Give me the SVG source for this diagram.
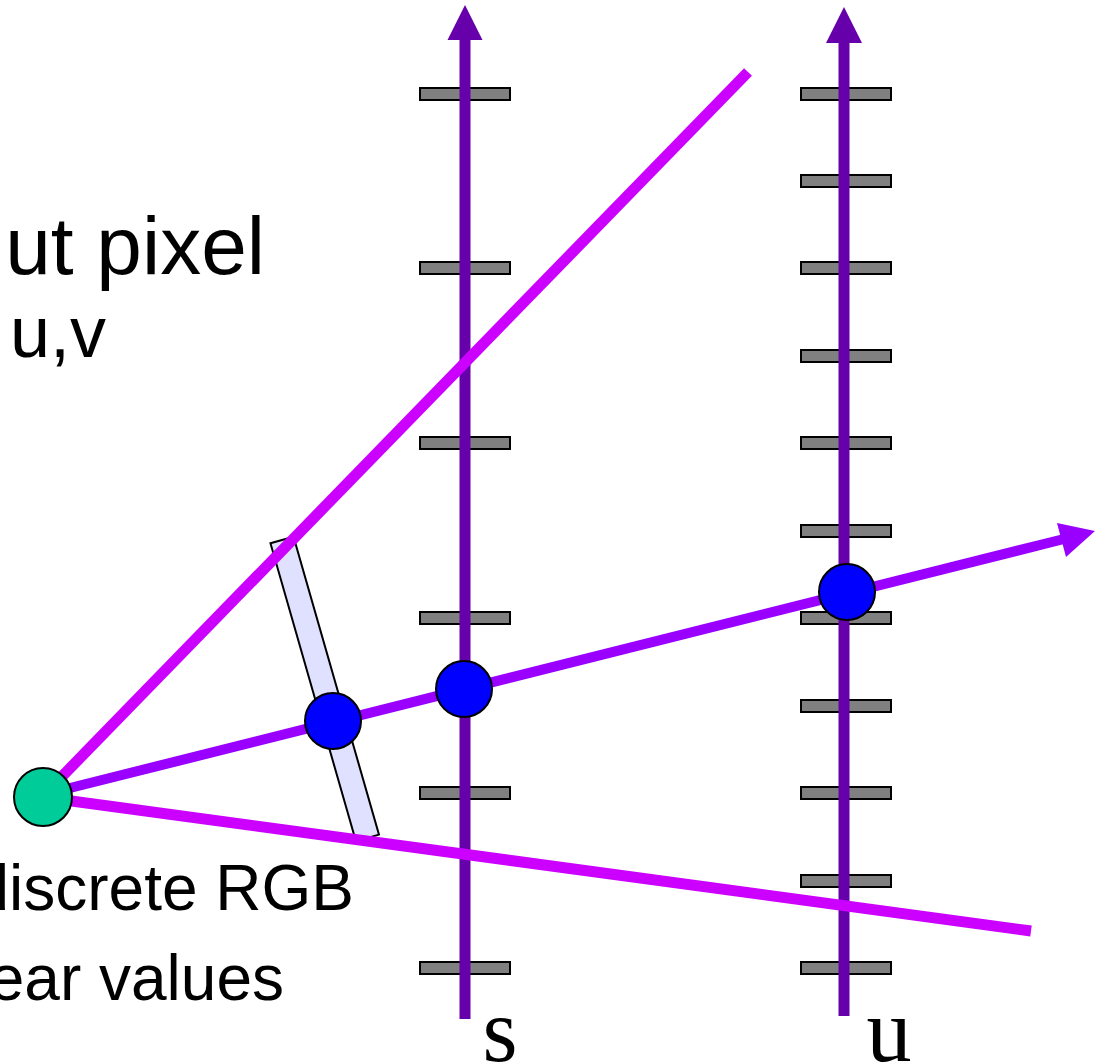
<svg xmlns="http://www.w3.org/2000/svg" width="1105" height="1064" viewBox="0 0 1105 1064">
<style>
.tick{fill:#808080;stroke:#000;stroke-width:2}
.axis{stroke:#6600aa;stroke-width:11;fill:none}
.ahead{fill:#6600aa}
.ray{stroke:#cc00ff;stroke-width:11;fill:none}
.mid{stroke:#9900ff;stroke-width:10;fill:none}
.dot{fill:#0000ff;stroke:#000;stroke-width:2}
.lbl{font-family:"Liberation Sans",Arial,sans-serif;fill:#000}
.ax{font-family:"Liberation Serif","Times New Roman",serif;fill:#000;font-size:90px}
</style>
<rect width="1105" height="1064" fill="#fff"/>
<g id="labels">
<text class="lbl" x="265" y="274" font-size="82" text-anchor="end">ut pixel</text>
<text class="lbl" x="106" y="357" font-size="72" text-anchor="end">u,v</text>
<text class="lbl" x="354" y="910" font-size="64" text-anchor="end">discrete RGB</text>
<text class="lbl" x="284" y="1000" font-size="64" text-anchor="end">ear values</text>
</g>
<g id="s-axis">
<rect class="tick" x="420" y="88" width="90" height="12"/>
<rect class="tick" x="420" y="262" width="90" height="12"/>
<rect class="tick" x="420" y="437" width="90" height="12"/>
<rect class="tick" x="420" y="612" width="90" height="12"/>
<rect class="tick" x="420" y="787" width="90" height="12"/>
<rect class="tick" x="420" y="962" width="90" height="12"/>
<line class="axis" x1="465" y1="1019" x2="465" y2="38"/>
<polygon class="ahead" points="465,5 447.5,40 482.5,40"/>
<text class="ax" x="500" y="1061" text-anchor="middle">s</text>
</g>
<g id="u-axis">
<rect class="tick" x="801" y="88" width="90" height="12"/>
<rect class="tick" x="801" y="175" width="90" height="12"/>
<rect class="tick" x="801" y="262" width="90" height="12"/>
<rect class="tick" x="801" y="350" width="90" height="12"/>
<rect class="tick" x="801" y="437" width="90" height="12"/>
<rect class="tick" x="801" y="525" width="90" height="12"/>
<rect class="tick" x="801" y="612" width="90" height="12"/>
<rect class="tick" x="801" y="700" width="90" height="12"/>
<rect class="tick" x="801" y="787" width="90" height="12"/>
<rect class="tick" x="801" y="875" width="90" height="12"/>
<rect class="tick" x="801" y="962" width="90" height="12"/>
<line class="axis" x1="844" y1="1016" x2="844" y2="41"/>
<polygon class="ahead" points="844,7 826,43 862,43"/>
<text class="ax" x="889" y="1061" text-anchor="middle">u</text>
</g>
<g id="band">
<rect x="-12" y="0" width="24" height="310" fill="#e0e0ff" stroke="#000" stroke-width="2" transform="translate(282,540) rotate(-16)"/>
</g>
<g id="connectors">
<line class="ray" x1="42" y1="797" x2="748" y2="72"/>
<line class="ray" x1="42" y1="797" x2="1031" y2="931"/>
<line class="mid" x1="42" y1="795" x2="1062" y2="539.5"/>
<polygon fill="#9900ff" points="1095,531 1057,523 1066,557"/>
</g>
<g id="eye"><circle cx="43" cy="797" r="29" fill="#00cc99" stroke="#000" stroke-width="2"/></g>
<g id="p1"><circle class="dot" cx="333" cy="721" r="28"/></g>
<g id="p2"><circle class="dot" cx="464" cy="689" r="28"/></g>
<g id="p3"><circle class="dot" cx="847" cy="592" r="28"/></g>
</svg>
